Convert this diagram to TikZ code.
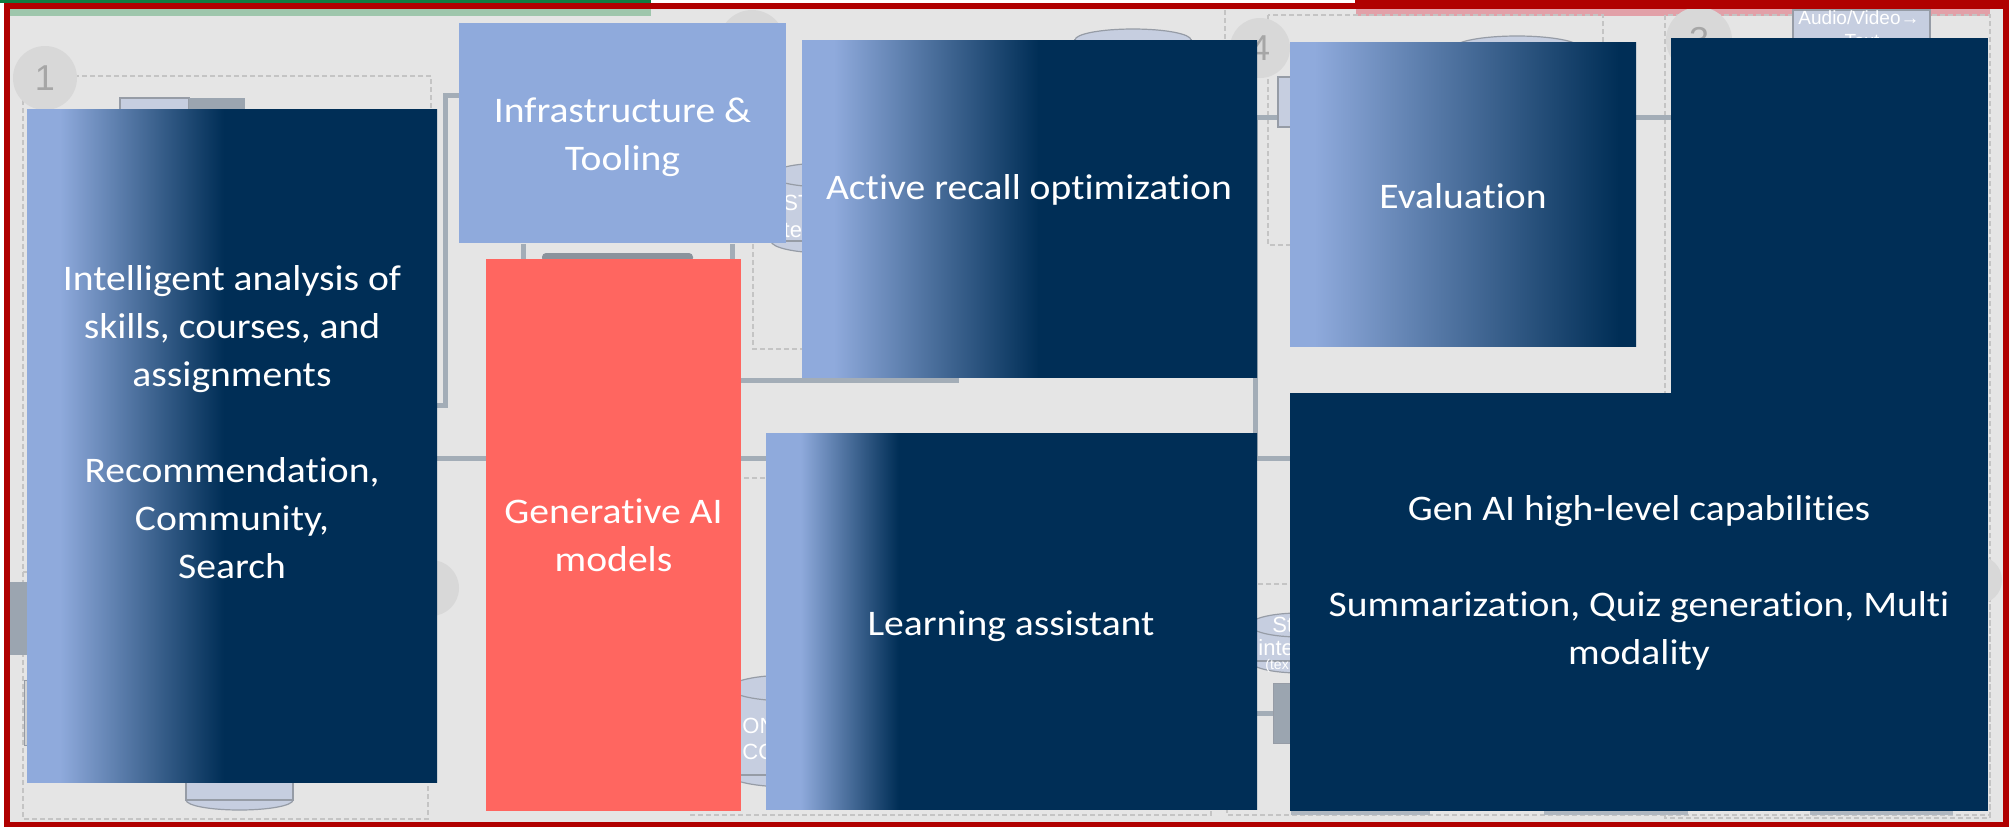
\documentclass[tikz,border=0pt]{standalone}
\usepackage{fontspec}
\setmainfont{Carlito}[FakeStretch=1.1, Ligatures=NoCommon]
\newfontfamily\bgfont{Liberation Sans}
\usepackage{xcolor}
\usetikzlibrary{fit}
\definecolor{deepnavy}{RGB}{0,46,86}
\definecolor{lb}{RGB}{143,170,220}
\definecolor{coral}{RGB}{255,102,96}
\definecolor{framered}{RGB}{176,0,0}
\definecolor{bg}{RGB}{229,229,229}
\definecolor{wire}{RGB}{163,173,183}
\definecolor{dash}{RGB}{196,196,196}
\definecolor{disc}{RGB}{216,216,216}
\definecolor{digit}{RGB}{166,166,166}
\definecolor{drum}{RGB}{198,206,224}
\definecolor{drumline}{RGB}{150,156,166}
\definecolor{tabgreen}{RGB}{16,124,65}
\definecolor{tabgreenlt}{RGB}{158,198,172}
\definecolor{tabpink}{RGB}{226,160,168}
\definecolor{slab}{RGB}{155,165,176}
\pgfdeclarehorizontalshading{fadeskills}{100bp}{color(0bp)=(lb); color(29bp)=(lb); color(49bp)=(deepnavy); color(100bp)=(deepnavy)}
\pgfdeclarehorizontalshading{faderecall}{100bp}{color(0bp)=(lb); color(28.5bp)=(lb); color(51bp)=(deepnavy); color(100bp)=(deepnavy)}
\pgfdeclarehorizontalshading{fadeeval}{100bp}{color(0bp)=(lb); color(28.5bp)=(lb); color(72.5bp)=(deepnavy); color(100bp)=(deepnavy)}
\pgfdeclarehorizontalshading{fadeassist}{100bp}{color(0bp)=(lb); color(28.5bp)=(lb); color(38.5bp)=(deepnavy); color(100bp)=(deepnavy)}
\begin{document}
\begin{tikzpicture}[x=0.5pt,y=-0.5pt,
	panel/.style={inner sep=0pt, outer sep=0pt},
	caption/.style={text=white, align=center, inner sep=0pt, font=\fontsize{18pt}{24pt}\selectfont},
	wire/.style={draw=wire, line width=2.5pt},
	guide/.style={draw=dash, line width=0.6pt, dash pattern=on 2.5pt off 1.5pt},
	disc/.style={circle, fill=disc, inner sep=0pt, text=digit, font=\bgfont\fontsize{18pt}{18pt}\selectfont},
	drum/.style={fill=drum, draw=drumline, line width=0.6pt},
	frag/.style={text=white, inner sep=0pt, anchor=west, font=\bgfont\fontsize{11pt}{11pt}\selectfont}]
		\useasboundingbox (0,0) rectangle (2013,826);
		\fill[white] (0,0) rectangle (2013,826);
		\fill[tabgreen] (0,0) rectangle (651,3);
		\fill[bg] (7,5) rectangle (2005,825);
		\fill[tabgreenlt] (10,8) rectangle (651,16);
		\fill[tabpink] (1356,8) rectangle (1990,16);
		\draw[guide] (23,76) rectangle (431,572);
		\draw[guide] (23,572) rectangle (428,819);
		\draw[guide] (753,244) -- (753,349) -- (802,349);
		\draw[guide] (1225,10) -- (1225,40);
		\draw[guide] (1268,15) rectangle (1603,245);
		\draw[guide] (1665,15) rectangle (1990,818);
		\draw[guide] (691,478) rectangle (1211,815);
		\draw[guide] (1227,584) rectangle (1990,815);
		\draw[wire] (437,405) -- (445,405) -- (445,95) -- (459,95);
		\draw[wire] (523,244) -- (523,259);
		\draw[wire] (732,244) -- (732,259);
		\fill[wire!85!black, rounded corners=2pt] (542,253) rectangle (693,262);
		\draw[wire] (741,380) -- (959,380);
		\draw[wire] (437,458) -- (1290,458);
		\draw[wire] (1255,117) -- (1255,458);
		\draw[wire] (1255,117) -- (1671,117);
		\draw[wire] (1257,713) -- (1273,713);
		\fill[slab] (10,582) rectangle (27,655);
		\filldraw[fill=bg!92!black, draw=drumline] (24,680) rectangle (60,745);
		\fill[drum] (120,98) rectangle (189,112);
		\fill[slab] (189,98) rectangle (245,112);
		\filldraw[drum] (1278,77) rectangle (1300,127);
		\filldraw[fill=slab, draw=drumline] (1273,683) rectangle (1300,743);
		\fill[slab!80] (1291,800) rectangle (1430,815);
		\fill[slab!80] (1544,800) rectangle (1688,815);
		\fill[slab!80] (1810,800) rectangle (1953,815);
		\node[disc, minimum size=32pt] (one) at (45,78) {1};
		\node[disc, minimum size=33pt] (two) at (752,43) {};
		\node[disc, minimum size=30pt] (four) at (1260,48) {4};
		\node[disc, minimum size=33pt] (three) at (1699,40) {3};
		\node[disc, minimum size=28pt] (hub) at (431,588) {};
		\node[disc, minimum size=24pt] (edge) at (1978,580) {};
		\fill[drum] (1075,40) rectangle (1191,120);
		\filldraw[drum] (1133,40) ellipse [x radius=58, y radius=11];
		\filldraw[drum] (1517,48) ellipse [x radius=63, y radius=12];
		\filldraw[drum] (825.5,241) ellipse [x radius=54.5, y radius=12];
		\fill[drum] (771,175) rectangle (880,241);
		\draw[drumline, line width=0.6pt] (771,175) -- (771,241);
		\filldraw[drum] (825.5,175) ellipse [x radius=54.5, y radius=12];
		\node[frag] (stfrag) at (783,203) {ST};
		\node[frag] (ntefrag) at (771,230) {nte};
		\filldraw[drum] (239.5,800) ellipse [x radius=53.5, y radius=10];
		\fill[drum] (186,700) rectangle (293,800);
		\draw[drumline, line width=0.6pt] (186,700) -- (186,800) (293,700) -- (293,800);
		\filldraw[drum] (790,775) ellipse [x radius=60, y radius=12];
		\fill[drum] (730,688) rectangle (850,775);
		\filldraw[drum] (790,688) ellipse [x radius=60, y radius=13];
		\node[frag] (ontfrag) at (742,726) {ONT};
		\node[frag] (cofrag) at (742,752) {CO};
		\filldraw[drum] (1300,661) ellipse [x radius=50, y radius=12];
		\fill[drum] (1250,625) rectangle (1350,661);
		\draw[drumline, line width=0.6pt] (1250,625) -- (1250,661);
		\filldraw[drum] (1300,625) ellipse [x radius=50, y radius=12];
		\node[frag] (stfragb) at (1272,625) {St};
		\node[frag] (intefrag) at (1258,648) {inte};
		\node[frag, font=\bgfont\fontsize{7pt}{7pt}\selectfont] (texfrag) at (1265,666) {(tex};
		\filldraw[drum] (1793,10) rectangle (1930,60);
		\node[frag, anchor=center, font=\bgfont\fontsize{9.5pt}{10pt}\selectfont] (audio) at (1859,18) {Audio/Video→};
		\node[frag, anchor=center, font=\bgfont\fontsize{9.5pt}{10pt}\selectfont] (audiotext) at (1862,41) {Text};
		\node[panel, fit={(27,109) (437,782)}, shading=fadeskills] (skills) {};
		\node[panel, fit={(459,23) (786,243)}, fill=lb] (infra) {};
		\node[panel, fit={(486,259) (741,811)}, fill=coral] (genai) {};
		\node[panel, fit={(802,40) (1257,377)}, shading=faderecall] (recall) {};
		\node[panel, fit={(1290,42) (1636,346)}, shading=fadeeval] (evalbox) {};
		\node[panel, fit={(766,433) (1257,809)}, shading=fadeassist] (assist) {};
		\node[panel, fit={(1671,38) (1988,811)}, fill=deepnavy] (capabtall) {};
		\node[panel, fit={(1290,393) (1988,811)}, fill=deepnavy] (capab) {};
		\node[caption] (skillstxt) at (232,422.5) {Intelligent analysis of\\skills, courses, and\\assignments\\[24pt]Recommendation,\\Community,\\Search};
		\node[caption] (infratxt) at (622.5,137.5) {Infrastructure \&\\Tooling};
		\node[caption] (genaitxt) at (613.5,535.5) {Generative AI\\models};
		\node[caption] (recalltxt) at (1029,190) {Active recall optimization};
		\node[caption] (evaltxt) at (1463,196.5) {Evaluation};
		\node[caption] (assisttxt) at (1011,626) {Learning assistant};
		\node[caption] (capabtxt) at (1639,582.5) {Gen AI high-level capabilities\\[24pt]Summarization, Quiz generation, Multi\\modality};
		\fill[framered] (1355,0) rectangle (2009,8);
		\draw[framered, line width=3pt] (7,5.5) rectangle (2005.5,825);
\end{tikzpicture}
\end{document}
